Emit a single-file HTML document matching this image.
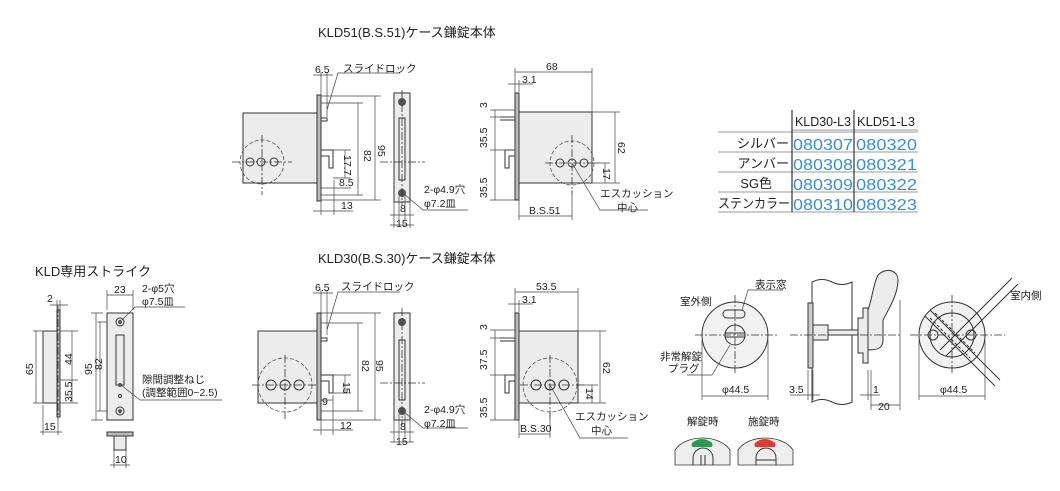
<!DOCTYPE html>
<html><head><meta charset="utf-8"><style>
body{margin:0;background:#fff}
svg{display:block}
text{font-family:"Liberation Sans","Noto Sans CJK JP",sans-serif;fill:#222}
.t{font-size:13px}
.s{font-size:10.5px}
.b{fill:#3b8fcf;font-size:16px}
.h{font-size:13px}
.l{stroke:#333;stroke-width:1;fill:none}
.d{stroke:#333;stroke-width:0.8;fill:none;stroke-dasharray:8 2 2 2}
.dc{stroke:#555;stroke-width:0.8;fill:none;stroke-dasharray:4 2}
.body{fill:#ececec;stroke:#333;stroke-width:1}
.pl{fill:#bbb;stroke:#333;stroke-width:1}
.dim{stroke:#444;stroke-width:0.7;fill:none}
</style></head><body>
<svg width="1060" height="491" viewBox="0 0 1060 491" xmlns="http://www.w3.org/2000/svg">
<text class="t" x="318" y="37">KLD51(B.S.51)ケース鎌錠本体</text>
<text class="t" x="318" y="263">KLD30(B.S.30)ケース鎌錠本体</text>
<text class="t" x="35" y="276">KLD専用ストライク</text>

<rect class="body" x="243" y="113" width="74" height="70"/>
<rect class="pl" x="317" y="95" width="4" height="106"/>
<circle class="dc" cx="262" cy="162" r="22"/>
<circle class="l" cx="250" cy="162" r="4"/><circle class="l" cx="261" cy="162" r="4"/><circle class="l" cx="274" cy="162" r="4"/>
<line class="d" x1="232" y1="162" x2="292" y2="162"/><line class="d" x1="262" y1="135" x2="262" y2="195"/>
<path class="l" d="M321 150 h12 v18 h-4 v-12 h-8"/>
<path class="l" d="M321 118 h6 v3 h-6"/>
<path class="dim" d="M321 72 v28 M327 72 v45 M313 75 h20 M327 110 L338 73 h62"/>
<text class="s" x="315" y="73">6.5</text><text class="s" x="343" y="72">スライドロック</text>
<path class="dim" d="M321 103 h42 M321 195 h42 M358 103 v92 M321 96 h60 M321 200 h60 M375 96 v104"/>
<text class="s" x="364" y="150" transform="rotate(90 364 150)">82</text>
<text class="s" x="378" y="145" transform="rotate(90 378 145)">95</text>
<path class="dim" d="M333 150 h18 M333 178 h18 M345 150 v28 M321 188 h30"/>
<text class="s" x="344" y="155" transform="rotate(90 344 155)">17.7</text>
<text class="s" x="339" y="186">8.5</text>
<path class="dim" d="M321 190 v25 M334 180 v35 M313 211 h40"/>
<text class="s" x="341" y="209">13</text>

<rect class="body" x="394" y="93" width="16" height="109"/>
<circle cx="402" cy="102" r="4" fill="#555"/><circle cx="402" cy="193" r="4" fill="#555"/>
<rect class="l" x="399" y="118" width="6" height="62"/>
<line class="d" x1="402" y1="90" x2="402" y2="205"/>
<line class="d" x1="380" y1="162" x2="425" y2="162"/>
<path class="dim" d="M399 196 v25 M405 196 v25 M394 200 v28 M410 200 v28 M390 215 h24 M390 225 h24 M404 194 L423 210 h45"/>
<text class="s" x="400" y="212">8</text><text class="s" x="396" y="227">15</text>
<text class="s" x="424" y="193">2-φ4.9穴</text><text class="s" x="424" y="207">φ7.2皿</text>

<rect class="body" x="519" y="112" width="73" height="71"/>
<rect class="pl" x="515" y="93" width="4" height="107"/>
<circle class="dc" cx="572" cy="163" r="22"/>
<circle class="l" cx="560" cy="163" r="4"/><circle class="l" cx="572" cy="163" r="4"/><circle class="l" cx="584" cy="163" r="4"/>
<line class="d" x1="545" y1="163" x2="600" y2="163"/><line class="d" x1="572" y1="135" x2="572" y2="195"/>
<path class="l" d="M515 150 h-10 v18 h4 v-12 h6"/>
<path class="l" d="M500 117 h15 M500 120 h15"/>
<path class="dim" d="M515 68 v25 M592 68 v45 M515 72 h77 M519 80 v12 M508 84 h25"/>
<text class="s" x="546" y="70">68</text><text class="s" x="522" y="83">3.1</text>
<path class="dim" d="M490 110 h25 M490 117 h25 M490 150 h25 M490 200 h25 M495 110 v90"/>
<text class="s" x="487" y="108" transform="rotate(-90 487 108)">3</text>
<text class="s" x="487" y="148" transform="rotate(-90 487 148)">35.5</text>
<text class="s" x="487" y="198" transform="rotate(-90 487 198)">35.5</text>
<path class="dim" d="M592 112 h28 M592 183 h28 M615 112 v71 M590 163 h20 M605 163 v20"/>
<text class="s" x="618" y="142" transform="rotate(90 618 142)">62</text>
<text class="s" x="603" y="168" transform="rotate(90 603 168)">17</text>
<path class="dim" d="M519 190 v30 M572 190 v30 M519 216 h53 M572 163 L600 210 h48"/>
<text class="s" x="529" y="214">B.S.51</text>
<text class="s" x="600" y="197">エスカッション</text><text class="s" x="617" y="211">中心</text>

<g>
<path stroke="#999" stroke-width="1" fill="none" d="M718 132 H918 M718 152 H918 M718 172 H918 M718 192 H918 M718 212 H918 M792 130 H918"/>
<path stroke="#333" stroke-width="1.2" fill="none" d="M792 110 V212 M854 110 V212"/>
<text class="h" x="795" y="126" textLength="56" lengthAdjust="spacingAndGlyphs">KLD30-L3</text><text class="h" x="857" y="126" textLength="58" lengthAdjust="spacingAndGlyphs">KLD51-L3</text>
<text class="h" x="789" y="148" text-anchor="end">シルバー</text><text class="b" x="793" y="150" textLength="60" lengthAdjust="spacingAndGlyphs">080307</text><text class="b" x="856" y="150" textLength="61" lengthAdjust="spacingAndGlyphs">080320</text>
<text class="h" x="789" y="168" text-anchor="end">アンバー</text><text class="b" x="793" y="170" textLength="60" lengthAdjust="spacingAndGlyphs">080308</text><text class="b" x="856" y="170" textLength="61" lengthAdjust="spacingAndGlyphs">080321</text>
<text class="h" x="772" y="188" text-anchor="end">SG色</text><text class="b" x="793" y="190" textLength="60" lengthAdjust="spacingAndGlyphs">080309</text><text class="b" x="856" y="190" textLength="61" lengthAdjust="spacingAndGlyphs">080322</text>
<text class="h" x="790" y="208" text-anchor="end" textLength="72" lengthAdjust="spacingAndGlyphs">ステンカラー</text><text class="b" x="793" y="210" textLength="60" lengthAdjust="spacingAndGlyphs">080310</text><text class="b" x="856" y="210" textLength="61" lengthAdjust="spacingAndGlyphs">080323</text>
</g>

<rect class="body" x="43" y="331" width="15" height="72"/>
<rect class="pl" x="57" y="310" width="3" height="107"/>
<line class="d" x1="58" y1="305" x2="58" y2="420"/>
<path class="dim" d="M43 331 h-10 M43 403 h-10 M36 331 v72 M60 331 h18 M60 380 h18 M60 403 h18 M72 331 v72"/>
<text class="s" x="33" y="375" transform="rotate(-90 33 375)">65</text>
<text class="s" x="72" y="365" transform="rotate(-90 72 365)">44</text>
<text class="s" x="72" y="402" transform="rotate(-90 72 402)">35.5</text>
<path class="dim" d="M43 405 v30 M58 420 v15 M40 432 h22 M57 300 v10 M60 300 v10 M50 305 h18"/>
<text class="s" x="44" y="430">15</text><text class="s" x="47" y="302">2</text>
<rect class="body" x="107" y="313" width="26" height="107"/>
<circle class="l" cx="120" cy="322" r="4"/><circle cx="120" cy="322" r="2" fill="#555"/>
<circle class="l" cx="120" cy="411" r="4"/><circle cx="120" cy="411" r="2" fill="#555"/>
<rect class="l" x="116" y="335" width="8" height="50"/>
<circle cx="120" cy="385" r="2" fill="#555"/><circle class="l" cx="120" cy="396" r="1.5"/>
<path class="dim" d="M107 290 v20 M133 290 v20 M107 295 h26 M103 313 h-12 M103 420 h-12 M96 313 v107 M107 322 h-10 M107 411 h-10 M100 322 v89"/>
<text class="s" x="114" y="293">23</text>
<text class="s" x="92" y="375" transform="rotate(-90 92 375)">95</text>
<text class="s" x="102" y="370" transform="rotate(-90 102 370)">82</text>
<path class="dim" d="M122 320 L135 307 h50 M121 385 L140 400 h82"/>
<text class="s" x="142" y="292">2-φ5穴</text><text class="s" x="142" y="305">φ7.5皿</text>
<text class="s" x="142" y="383">隙間調整ねじ</text><text class="s" x="142" y="396">(調整範囲0~2.5)</text>
<rect class="pl" x="107" y="432" width="26" height="4"/>
<rect class="body" x="114" y="436" width="12" height="14"/>
<path class="dim" d="M114 450 v18 M126 450 v18 M110 465 h20"/>
<text class="s" x="115" y="463">10</text>

<rect class="body" x="258" y="331" width="59" height="72"/>
<rect class="pl" x="317" y="313" width="4" height="107"/>
<circle class="dc" cx="285" cy="385" r="27"/>
<circle class="l" cx="271" cy="385" r="5"/><circle class="l" cx="285" cy="385" r="5"/><circle class="l" cx="299" cy="385" r="5"/>
<line class="d" x1="252" y1="385" x2="318" y2="385"/><line class="d" x1="285" y1="355" x2="285" y2="420"/>
<path class="l" d="M321 375 h12 v18 h-4 v-12 h-8"/>
<path class="l" d="M321 338 h6 v3 h-6"/>
<path class="dim" d="M321 290 v28 M327 290 v45 M313 293 h20 M327 330 L338 292 h62"/>
<text class="s" x="315" y="291">6.5</text><text class="s" x="341" y="290">スライドロック</text>
<path class="dim" d="M321 323 h42 M321 411 h42 M358 323 v88 M321 313 h60 M321 420 h60 M375 313 v107"/>
<text class="s" x="362" y="360" transform="rotate(90 362 360)">82</text>
<text class="s" x="376" y="360" transform="rotate(90 376 360)">95</text>
<path class="dim" d="M333 375 h18 M333 393 h18 M345 375 v18 M321 400 h12"/>
<text class="s" x="343" y="382" transform="rotate(90 343 382)">15</text>
<text class="s" x="322" y="405">9</text>
<path class="dim" d="M321 405 v30 M333 395 v40 M313 430 h40"/>
<text class="s" x="340" y="429">12</text>

<rect class="body" x="394" y="313" width="16" height="107"/>
<circle cx="402" cy="322" r="4" fill="#555"/><circle cx="402" cy="411" r="4" fill="#555"/>
<rect class="l" x="399" y="340" width="6" height="60"/>
<line class="d" x1="402" y1="308" x2="402" y2="425"/>
<line class="d" x1="380" y1="383" x2="425" y2="383"/>
<path class="dim" d="M399 414 v25 M405 414 v25 M394 420 v22 M410 420 v22 M390 432 h24 M390 442 h24 M404 412 L423 428 h45"/>
<text class="s" x="400" y="430">8</text><text class="s" x="396" y="445">15</text>
<text class="s" x="424" y="413">2-φ4.9穴</text><text class="s" x="424" y="427">φ7.2皿</text>

<rect class="body" x="519" y="331" width="59" height="72"/>
<rect class="pl" x="515" y="313" width="4" height="107"/>
<circle class="dc" cx="550" cy="385" r="27"/>
<circle class="l" cx="536" cy="385" r="5"/><circle class="l" cx="550" cy="385" r="5"/><circle class="l" cx="564" cy="385" r="5"/>
<line class="d" x1="520" y1="385" x2="585" y2="385"/><line class="d" x1="550" y1="355" x2="550" y2="420"/>
<path class="l" d="M515 375 h-10 v18 h4 v-12 h6"/>
<path class="l" d="M500 338 h15 M500 341 h15"/>
<path class="dim" d="M515 288 v25 M578 288 v45 M515 292 h63 M519 300 v12 M508 304 h25"/>
<text class="s" x="536" y="290">53.5</text><text class="s" x="522" y="303">3.1</text>
<path class="dim" d="M490 330 h25 M490 338 h25 M490 375 h25 M490 420 h25 M495 330 v90"/>
<text class="s" x="487" y="330" transform="rotate(-90 487 330)">3</text>
<text class="s" x="487" y="370" transform="rotate(-90 487 370)">37.5</text>
<text class="s" x="487" y="418" transform="rotate(-90 487 418)">35.5</text>
<path class="dim" d="M578 331 h28 M578 403 h28 M600 331 v72 M578 385 h20 M592 385 v18"/>
<text class="s" x="603" y="362" transform="rotate(90 603 362)">62</text>
<text class="s" x="586" y="388" transform="rotate(90 586 388)">14</text>
<path class="dim" d="M519 410 v28 M550 410 v28 M519 434 h31 M550 385 L580 438 h48"/>
<text class="s" x="520" y="432">B.S.30</text>
<text class="s" x="575" y="420">エスカッション</text><text class="s" x="591" y="434">中心</text>

<circle class="body" cx="735" cy="335" r="33" style="fill:#f2f2f2"/>
<rect class="l" x="723" y="310" width="22" height="8" rx="4"/>
<circle class="l" cx="735" cy="335" r="10"/>
<rect class="l" x="725" y="333" width="20" height="4"/>
<line class="d" x1="695" y1="335" x2="778" y2="335"/><line class="d" x1="735" y1="295" x2="735" y2="375"/>
<path class="dim" d="M742 310 L748 290 h35 M730 345 L712 375 h-25"/>
<text class="s" x="755" y="288">表示窓</text><text class="s" x="680" y="305">室外側</text>
<text class="s" x="660" y="360">非常解錠</text><text class="s" x="668" y="372">プラグ</text>
<path class="dim" d="M702 340 v60 M768 340 v60 M702 396 h66"/>
<text class="s" x="722" y="393">φ44.5</text>

<path class="l" d="M812 282 q10 -5 20 0 t20 0 v120 q-10 5 -20 0 t-20 0 z" style="fill:#fff"/>
<rect class="pl" x="808" y="303" width="5" height="65" style="fill:#ccc"/>
<rect class="body" x="813" y="325" width="15" height="15"/>
<rect class="body" x="828" y="330" width="30" height="5"/>
<path class="body" d="M858 318 h5 v-10 h5 v55 h-5 v-10 h-5 z"/>
<path class="body" d="M868 310 c5 -15 5 -25 10 -35 c8 -8 20 -5 20 5 c0 15 -10 30 -15 40 v20 c0 8 -5 10 -15 10 z"/>
<line class="d" x1="790" y1="335" x2="900" y2="335"/>
<path class="dim" d="M808 370 v30 M813 370 v30 M790 395 h30 M868 370 v30 M871 370 v30 M860 395 h20 M871 380 v30 M900 300 v110 M871 405 h29"/>
<text class="s" x="789" y="393">3.5</text><text class="s" x="873" y="393">1</text><text class="s" x="878" y="410">20</text>

<circle class="body" cx="952" cy="335" r="33" style="fill:#f2f2f2"/>
<circle class="l" cx="952" cy="335" r="22"/>
<circle class="l" cx="933" cy="335" r="5"/><circle class="l" cx="971" cy="335" r="5"/>
<path class="l" d="M930 310 L1000 380 M925 316 L995 386"/>
<path class="l" d="M940 350 L1012 278 M946 356 L1018 284"/>
<path class="l" d="M930 318 L970 358 M935 313 L975 353" style="stroke-dasharray:3 2"/>
<line class="d" x1="910" y1="335" x2="1005" y2="335"/><line class="d" x1="952" y1="295" x2="952" y2="375"/>
<text class="s" x="1010" y="299">室内側</text>
<path class="dim" d="M919 340 v60 M985 340 v60 M919 396 h66"/>
<text class="s" x="940" y="393">φ44.5</text>

<text class="s" x="687" y="425">解錠時</text><text class="s" x="748" y="425">施錠時</text>
<path d="M675 465 v-15 a30 20 0 0 1 55 0 v15 z" fill="#eee" stroke="#333" stroke-width="0.8"/>
<path d="M692 443 q10 -8 20 0 q2 5 -4 4 h-12 q-6 1 -4 -4z" fill="#2a9a4a"/>
<path d="M693 465 v-7 a10 10 0 0 1 20 0 v7 M701 455 v10 M705 455 v10" class="l"/>
<path d="M738 465 v-15 a30 20 0 0 1 55 0 v15 z" fill="#eee" stroke="#333" stroke-width="0.8"/>
<path d="M755 443 q10 -8 20 0 q2 5 -4 4 h-12 q-6 1 -4 -4z" fill="#e03a2a"/>
<path d="M756 465 v-7 a10 10 0 0 1 20 0 v7 M756 460 h20" class="l"/>
</svg>
</body></html>
